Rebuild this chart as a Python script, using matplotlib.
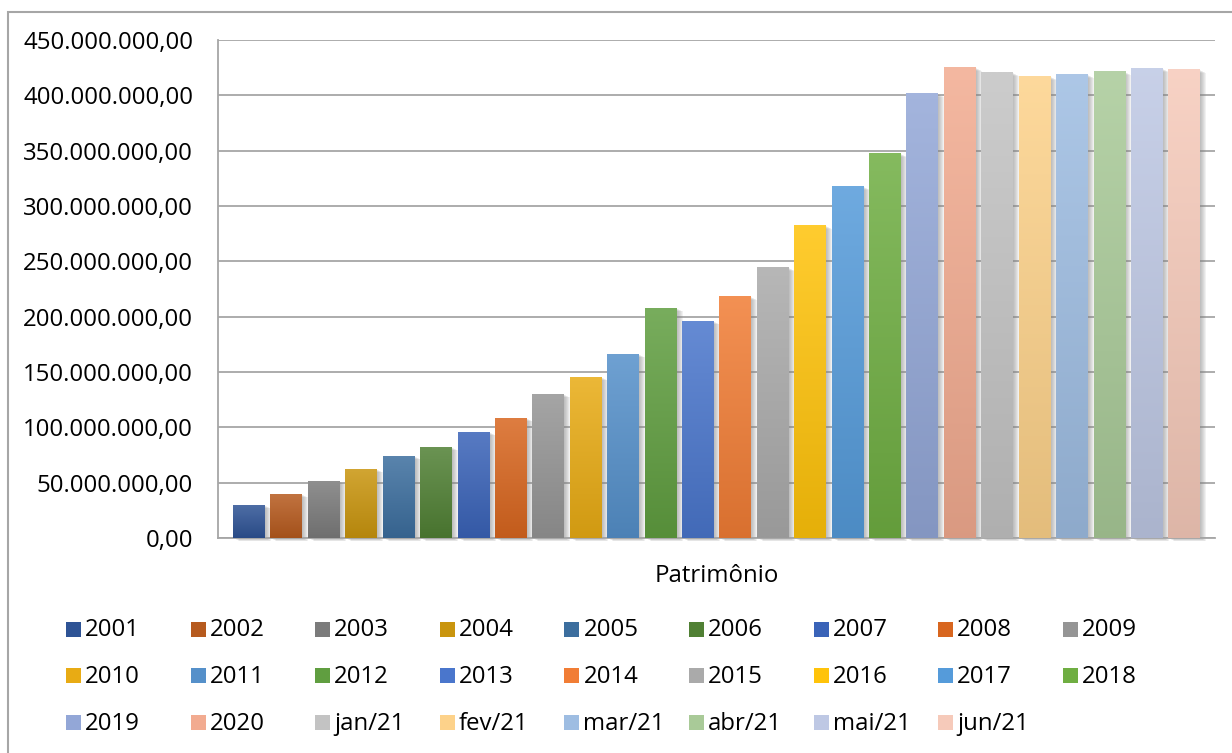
import numpy as np
import matplotlib
matplotlib.use('Agg')
import matplotlib.pyplot as plt
from matplotlib.patches import Rectangle
from matplotlib.colors import to_rgb
from matplotlib.ticker import FuncFormatter
from matplotlib import transforms

plt.rcParams['font.family'] = ['Open Sans', 'DejaVu Sans']

# dados (patrimonio em milhoes de reais)
periodos = ['2001', '2002', '2003', '2004', '2005', '2006', '2007', '2008', '2009',
            '2010', '2011', '2012', '2013', '2014', '2015', '2016', '2017', '2018',
            '2019', '2020', 'jan/21', 'fev/21', 'mar/21', 'abr/21', 'mai/21', 'jun/21']
patrimonio_mi = [29.8, 39.7, 51.4, 62.2, 73.9, 82.1, 95.6, 108.2, 129.9,
                 145.2, 165.9, 207.4, 195.7, 218.2, 244.4, 282.3, 317.4, 347.2,
                 401.3, 424.7, 420.2, 416.6, 418.4, 421.1, 423.8, 422.9]
cores = ['#2E5395', '#B65A1E', '#7B7B7B', '#C9950E', '#3C6E9E', '#508034', '#3A63B8', '#D8661F', '#959595',
         '#E8AB14', '#5590CA', '#609E40', '#4A76CC', '#F17D35', '#AAAAAA', '#FFC30A', '#559BDA', '#6FAE42',
         '#93A7D7', '#F2AB90', '#C3C3C3', '#FDD28A', '#9EBDE2', '#A9CA98', '#BEC8E4', '#F6CABA']
categoria = 'Patrimônio'
yticks_mi = [0, 50, 100, 150, 200, 250, 300, 350, 400, 450]

W, H = 1232, 753
FS = 17.3
fig = plt.figure(figsize=(W / 100, H / 100), dpi=100)
ax = fig.add_axes([218 / W, 1 - 538 / H, (1215 - 218) / W, (538 - 40) / H])


def brl(v, pos):
    s = f'{v * 1e6:,.2f}'
    return s.replace(',', 'X').replace('.', ',').replace('X', '.')


def gradiente(cor):
    base = np.array(to_rgb(cor))
    topo = base + (1 - base) * 0.15
    fundo = base * 0.9
    t = np.linspace(0, 1, 64)[:, None]
    return np.clip(topo * (1 - t) + fundo * t, 0, 1)[:, None, :]


largura = 0.855
for i, (v, c) in enumerate(zip(patrimonio_mi, cores)):
    # sombra
    for d in range(1, 7):
        tr = transforms.offset_copy(ax.transData, fig=fig, x=d, y=-d * 0.5, units='dots')
        ax.add_patch(Rectangle((i - largura / 2, 0), largura, v, transform=tr,
                               facecolor='#7f7f7f', alpha=0.1, lw=0, zorder=2, clip_on=False))
    ax.imshow(gradiente(c), extent=(i - largura / 2, i + largura / 2, 0, v),
              aspect='auto', zorder=3, interpolation='bilinear')

ax.set_xlim(-0.83, 25.82)
ax.set_ylim(0, 450)
ax.set_yticks(yticks_mi)
ax.yaxis.set_major_formatter(FuncFormatter(brl))
ax.set_xticks([])
ax.yaxis.grid(True, color='#a6a6a6', lw=1.3)
ax.set_axisbelow(True)
for s in ['top', 'right']:
    ax.spines[s].set_visible(False)
for s in ['left', 'bottom']:
    ax.spines[s].set_color('#a6a6a6')
    ax.spines[s].set_linewidth(1.3)
ax.tick_params(axis='y', length=0, pad=18, labelsize=FS)

fig.text(716.5 / W, 1 - 582 / H, categoria, ha='center', va='baseline', fontsize=FS)

# legenda (3 linhas x 9 colunas)
for i, (lab, c) in enumerate(zip(periodos, cores)):
    lin, col = divmod(i, 9)
    sx = 66 + col * 124.6
    sy = 629 + lin * 46.5
    fig.add_artist(Rectangle((sx / W, 1 - (sy + 7.5) / H), 15 / W, 15 / H,
                             transform=fig.transFigure, facecolor=c, lw=0))
    fig.text((sx + 19) / W, 1 - (sy + 7.5) / H, lab, ha='left', va='baseline', fontsize=FS)

# borda do grafico
fig.add_artist(Rectangle((8 / W, -0.1), 1.2, 1 - 12 / H + 0.1, transform=fig.transFigure,
                         fill=False, edgecolor='#a6a6a6', lw=1.5))

fig.savefig('out.png', dpi=100)
